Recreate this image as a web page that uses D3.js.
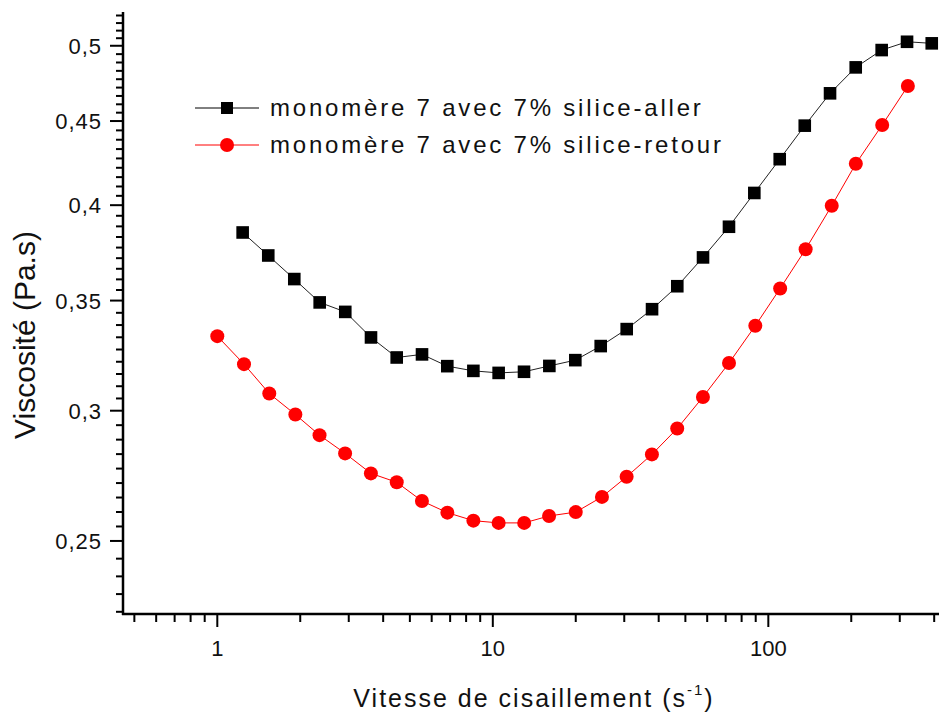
<!DOCTYPE html>
<html>
<head>
<meta charset="utf-8">
<script src="https://cdn.jsdelivr.net/npm/d3@7"></script>
<style>
html,body{margin:0;padding:0;background:#fff;}
text{font-family:"Liberation Sans",Arial,sans-serif;fill:#111;}
</style>
</head>
<body>
<svg id="chart" width="939" height="715"></svg>
<script>
// ---- data ----
const xAller = [1.236,1.531,1.903,2.353,2.914,3.613,4.479,5.534,6.836,8.501,10.50,12.98,16.04,19.93,24.64,30.62,37.84,46.73,57.94,71.98,88.96,110.0,135.6,167.5,207.6,257.9,318.8,391.9];
const yAller = [0.385,0.3728,0.3607,0.3491,0.3445,0.3324,0.3232,0.3246,0.3193,0.3172,0.3163,0.3168,0.3194,0.3220,0.3284,0.3363,0.3458,0.3571,0.3718,0.3881,0.4069,0.4266,0.4471,0.4678,0.4851,0.497,0.5028,0.5017];
const xRetour = [1.0,1.25,1.544,1.92,2.35,2.91,3.61,4.48,5.53,6.84,8.50,10.5,13.0,16.0,20.0,24.9,30.6,37.8,46.7,57.9,72.0,89.7,110.4,136.6,169.9,207.8,259,321];
const yRetour = [0.3330,0.3202,0.3073,0.2984,0.2899,0.2826,0.2748,0.2714,0.2644,0.2601,0.2572,0.2564,0.2564,0.2589,0.2603,0.2659,0.2735,0.2822,0.2926,0.3058,0.3207,0.3379,0.3560,0.3761,0.3997,0.4239,0.4475,0.4726];
const seriesNames = ["monomère 7 avec 7% silice-aller","monomère 7 avec 7% silice-retour"];
const xMajorTicks = [1,10,100];
const xMinorTicks = [0.5,0.6,0.7,0.8,0.9,2,3,4,5,6,7,8,9,20,30,40,50,60,70,80,90,200,300,400];
const yMajorTicks = [0.25,0.3,0.35,0.4,0.45,0.5];
const yTickLabels = ["0,25","0,3","0,35","0,4","0,45","0,5"];
const xTitle = "Vitesse de cisaillement (s";
const yTitle = "Viscosité (Pa.s)";

// ---- layout ----
const svg = d3.select("#chart");
const L = 123, T = 12, B = 614, R = 939;
const x = d3.scaleLog().domain([0.4547, 416.4]).range([L, R]);
const y = d3.scaleLog().domain([0.2257, 0.5242]).range([B, T]);

// minor y ticks: 8 per major interval, evenly spaced in log
const yMinor = [];
const ext = [0.2].concat(yMajorTicks).concat([0.55]);
for (let i = 0; i < ext.length - 1; i++) {
  const a = Math.log10(ext[i]), b = Math.log10(ext[i+1]);
  for (let k = 1; k <= 8; k++) {
    const v = Math.pow(10, a + (b - a) * k / 9);
    if (v > y.domain()[0] && v < y.domain()[1]) yMinor.push(v);
  }
}

const axisColor = "#000";
// y axis
const gy = svg.append("g");
gy.selectAll("line.maj").data(yMajorTicks).join("line")
  .attr("x1", L - 13).attr("x2", L).attr("y1", d => y(d)).attr("y2", d => y(d))
  .attr("stroke", axisColor).attr("stroke-width", 2);
gy.selectAll("line.min").data(yMinor).join("line").attr("class","min")
  .attr("x1", L - 7).attr("x2", L).attr("y1", d => y(d)).attr("y2", d => y(d))
  .attr("stroke", axisColor).attr("stroke-width", 2);
gy.selectAll("text").data(yMajorTicks).join("text")
  .attr("x", 102).attr("y", d => y(d) + 8)
  .attr("text-anchor", "end").attr("font-size", 22).attr("letter-spacing", 1)
  .text((d, i) => yTickLabels[i]);
gy.append("line").attr("x1", L).attr("x2", L).attr("y1", T).attr("y2", B + 1)
  .attr("stroke", axisColor).attr("stroke-width", 2.5);

// x axis
const gx = svg.append("g");
gx.selectAll("line.maj").data(xMajorTicks).join("line")
  .attr("x1", d => x(d)).attr("x2", d => x(d)).attr("y1", B).attr("y2", B + 13)
  .attr("stroke", axisColor).attr("stroke-width", 2);
gx.selectAll("line.min").data(xMinorTicks).join("line").attr("class","min")
  .attr("x1", d => x(d)).attr("x2", d => x(d)).attr("y1", B).attr("y2", B + 8)
  .attr("stroke", axisColor).attr("stroke-width", 2);
gx.selectAll("text").data(xMajorTicks).join("text")
  .attr("x", d => x(d)).attr("y", 656)
  .attr("text-anchor", "middle").attr("font-size", 22)
  .text(d => d3.format("d")(d));
gx.append("line").attr("x1", L - 1).attr("x2", R).attr("y1", B).attr("y2", B)
  .attr("stroke", axisColor).attr("stroke-width", 2.5);

// titles
const xt = svg.append("text").attr("x", 534).attr("y", 707)
  .attr("text-anchor", "middle").attr("font-size", 25).attr("letter-spacing", 2);
xt.append("tspan").text(xTitle);
xt.append("tspan").attr("font-size", 15).attr("dy", -12).text("-1");
xt.append("tspan").attr("dy", 12).text(")");

svg.append("text").attr("transform", "translate(35,335) rotate(-90)")
  .attr("text-anchor", "middle").attr("font-size", 30).text(yTitle);

// lines
const line = d3.line().x(d => x(d[0])).y(d => y(d[1]));
const dA = xAller.map((v, i) => [v, yAller[i]]);
const dR = xRetour.map((v, i) => [v, yRetour[i]]);
const plot = svg.append("g");
plot.append("path").datum(dA).attr("d", line).attr("fill", "none").attr("stroke", "#222").attr("stroke-width", 1);
plot.append("path").datum(dR).attr("d", line).attr("fill", "none").attr("stroke", "#ff0000").attr("stroke-width", 1);
plot.selectAll("rect.m").data(dA).join("rect").attr("class","m")
  .attr("x", d => x(d[0]) - 6.3).attr("y", d => y(d[1]) - 6.3)
  .attr("width", 12.6).attr("height", 12.6).attr("fill", "#000");
plot.selectAll("circle.m").data(dR).join("circle").attr("class","m")
  .attr("cx", d => x(d[0])).attr("cy", d => y(d[1])).attr("r", 7)
  .attr("fill", "#ff0000");

// legend
const leg = svg.append("g");
[0, 1].forEach(i => {
  const cy = 108 + i * 37;
  const col = i === 0 ? "#000" : "#ff0000";
  leg.append("line").attr("x1", 195).attr("x2", 259).attr("y1", cy).attr("y2", cy)
    .attr("stroke", col).attr("stroke-width", 1);
  if (i === 0) {
    leg.append("rect").attr("x", 221).attr("y", cy - 6).attr("width", 12).attr("height", 12).attr("fill", "#000");
  } else {
    leg.append("circle").attr("cx", 227).attr("cy", cy).attr("r", 7).attr("fill", "#ff0000");
  }
  leg.append("text").attr("x", 270).attr("y", cy + 7.5).attr("font-size", 24)
    .attr("letter-spacing", 2.8).text(seriesNames[i]);
});
</script>
</body>
</html>
